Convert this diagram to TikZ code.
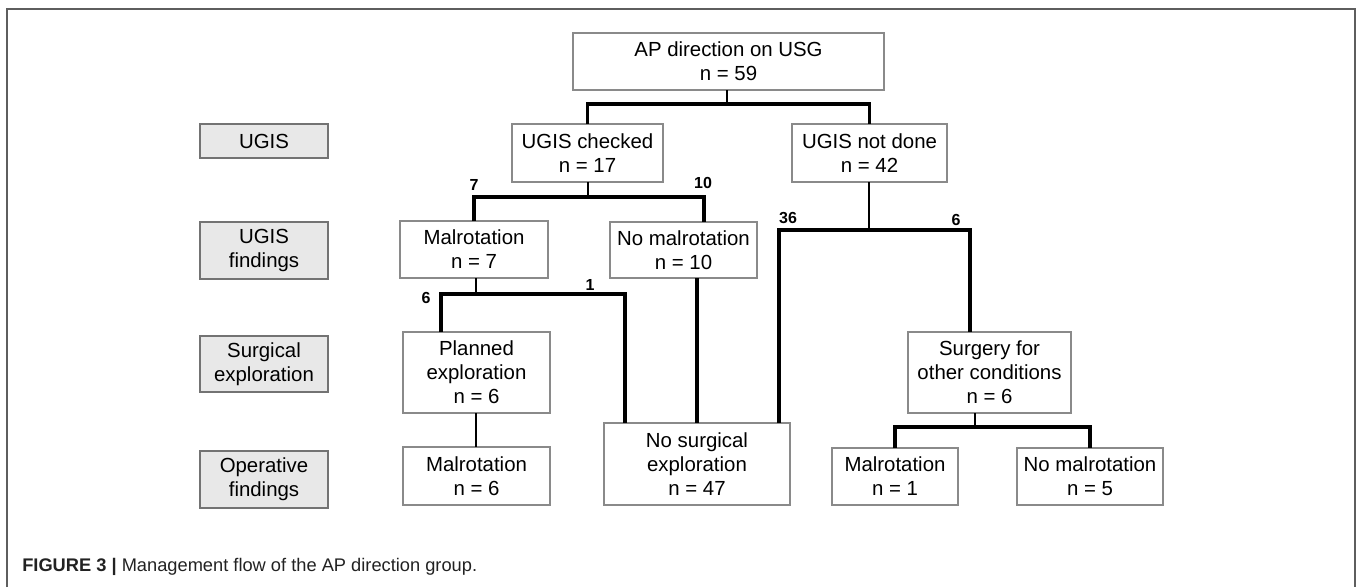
\documentclass[tikz,border=0pt]{standalone}
\usepackage{fontspec}
\setmainfont{Liberation Sans}
\definecolor{boxline}{HTML}{8A8A8A}
\definecolor{lblline}{HTML}{737373}
\definecolor{lblfill}{HTML}{E8E8E8}
\definecolor{framec}{HTML}{5E5E5E}
\definecolor{capc}{HTML}{222222}
\newcommand\mkbox[7]{%
  \node[#1, minimum width={(#5-#3)*0.75pt}, minimum height={(#6-#4)*0.75pt}]
    (#2) at ({(#3+#5)/2},{(#4+#6)/2}) {#7};}
\begin{document}
\begin{tikzpicture}[x=0.75pt, y=-0.75pt,
  flowbox/.style={draw=boxline, line width=1.1pt, fill=white, inner sep=0pt, outer sep=0pt,
    align=center, font=\fontsize{15.3pt}{18pt}\selectfont},
  lblbox/.style={draw=lblline, line width=1.1pt, fill=lblfill, inner sep=0pt, outer sep=0pt,
    align=center, font=\fontsize{15.3pt}{18pt}\selectfont},
  stem/.style={line width=1.3pt, black},
  branch/.style={line width=2.4pt, black, line join=miter},
  num/.style={font=\fontsize{12pt}{14pt}\selectfont\bfseries, inner sep=0pt}]
\useasboundingbox (0,0) rectangle (1360,587);
% frame
\draw[framec, line width=1.5pt] (7,587) -- (7,9) -- (1355,9) -- (1355,587);
% level labels
\mkbox{lblbox}{lU}{200}{124}{328}{158}{UGIS}
\mkbox{lblbox}{lUF}{200}{222}{328}{279}{UGIS\\findings}
\mkbox{lblbox}{lSE}{200}{336}{328}{392}{Surgical\\exploration}
\mkbox{lblbox}{lOF}{200}{451}{328}{508}{Operative\\findings}
% flow boxes
\mkbox{flowbox}{ap}{573}{33}{884}{90}{AP direction on USG\\n = 59}
\mkbox{flowbox}{ugc}{512}{124}{663}{182}{UGIS checked\\n = 17}
\mkbox{flowbox}{ugn}{792}{124}{947}{182}{UGIS not done\\n = 42}
\mkbox{flowbox}{m7}{400}{221}{548}{278}{Malrotation\\n = 7}
\mkbox{flowbox}{nm10}{610}{222}{757}{278}{No malrotation\\n = 10}
\mkbox{flowbox}{pe}{403}{332}{550}{413}{Planned\\exploration\\n = 6}
\mkbox{flowbox}{m6}{403}{447}{550}{505}{Malrotation\\n = 6}
\mkbox{flowbox}{ns}{604}{423}{790}{505}{No surgical\\exploration\\n = 47}
\mkbox{flowbox}{sfo}{908}{332}{1071}{413}{Surgery for\\other conditions\\n = 6}
\mkbox{flowbox}{m1}{832}{448}{958}{505}{Malrotation\\n = 1}
\mkbox{flowbox}{nm5}{1017}{448}{1163}{505}{No malrotation\\n = 5}
% junction coordinates
\coordinate (j1) at (727,104);
\coordinate (j2) at (588,197);
\coordinate (j3) at (869,230);
\coordinate (j4) at (476,294);
\coordinate (j7) at (975,427);
\coordinate (nm10in) at (704,222);
\coordinate (nsinA) at (779,423);
\coordinate (nsinB) at (625,423);
\coordinate (sfoin) at (970,332);
\coordinate (pein) at (441,332);
% connectors
\draw[stem] (ap.south -| j1) -- (j1);
\draw[branch] (ugc.north) |- (j1) -| (ugn.north);
\draw[stem] (ugc.south -| j2) -- (j2);
\draw[branch] (m7.north) |- (j2) -| (nm10in);
\draw[stem] (ugn.south -| j3) -- (j3);
\draw[branch] (nsinA) |- (j3) -| (sfoin);
\draw[stem] (m7.south -| j4) -- (j4);
\draw[branch] (pein) |- (j4) -| (nsinB);
\draw[branch] (nm10.south -| ns.north) -- (ns.north);
\draw[stem] (pe.south -| j4) -- (m6.north -| j4);
\draw[stem] (sfo.south -| j7) -- (j7);
\draw[branch] (m1.north) |- (j7) -| (nm5.north);
% branch counts
\node[num] (c7) at (474,185) {7};
\node[num] (c10) at (703,183) {10};
\node[num] (c36) at (788,218) {36};
\node[num] (c6r) at (956,220) {6};
\node[num] (c6l) at (426,298) {6};
\node[num] (c1) at (590,285) {1};
% caption
\node[anchor=west, inner sep=0pt, text=capc, font=\fontsize{13.7pt}{16pt}\selectfont] (cap) at (22,567)
  {\textbf{FIGURE 3 |} Management flow of the AP direction group.};
\end{tikzpicture}
\end{document}
